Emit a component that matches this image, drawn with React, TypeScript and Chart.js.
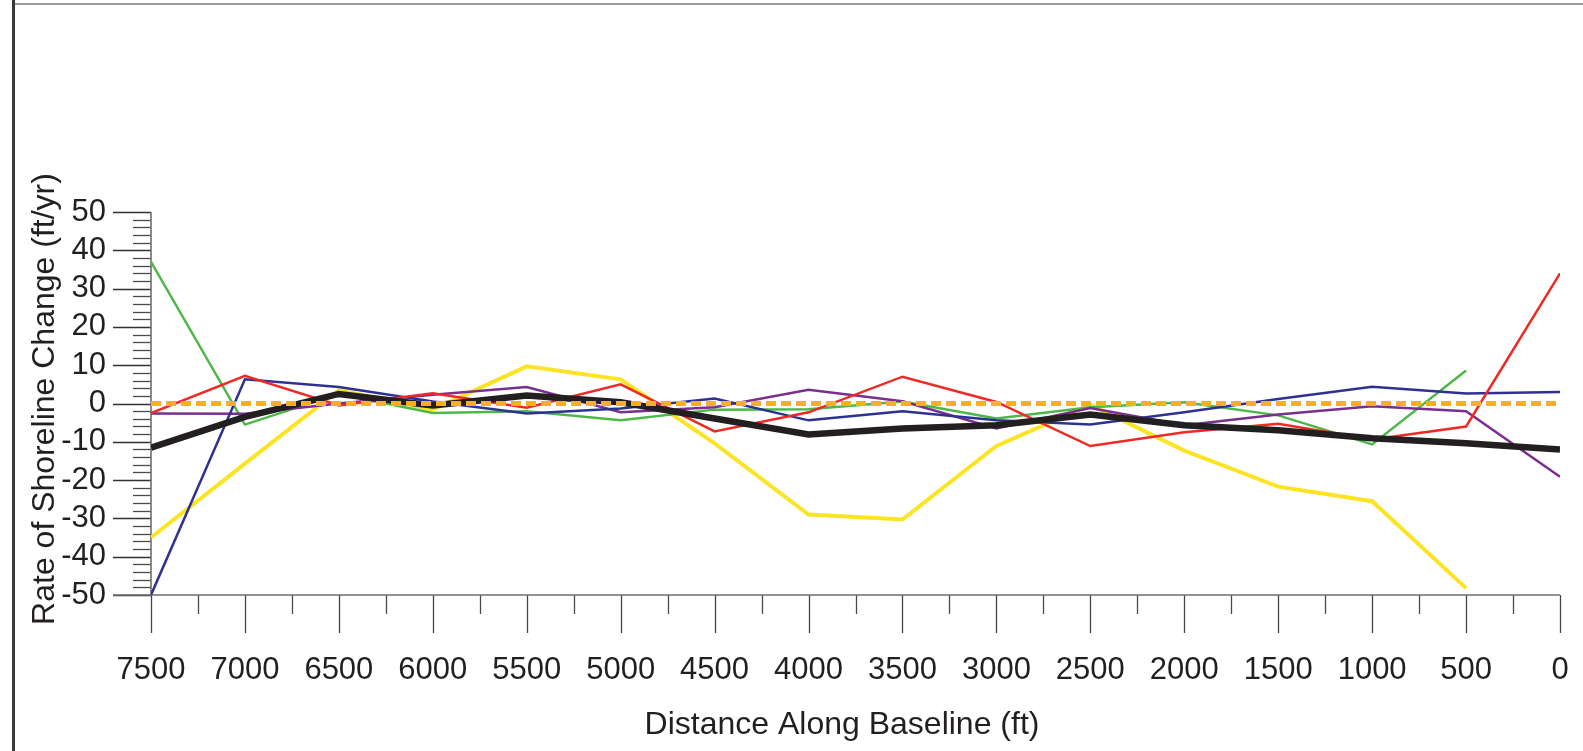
import React, { useEffect, useRef } from "react";
import { Chart, registerables } from "chart.js";

Chart.register(...registerables);

const DISTANCES = [7500, 7000, 6500, 6000, 5500, 5000, 4500, 4000, 3500, 3000, 2500, 2000, 1500, 1000, 500, 0];

const MEAN_RATE = [-11.5, -3.5, 2.5, -0.5, 2.1, 0.3, -3.9, -8.1, -6.5, -5.7, -2.9, -5.7, -7.0, -9.1, -10.4, -12.0];
const RED_RATE = [-2.5, 7.2, -0.5, 2.7, -1.1, 5.0, -7.3, -2.3, 7.0, 0.4, -11.1, -7.5, -5.3, -9.4, -6.0, 34.0];
const BLUE_RATE = [-50, 6.3, 4.3, 0.5, -2.6, -1.3, 1.3, -4.4, -2.0, -4.4, -5.5, -2.3, 1.2, 4.4, 2.6, 3.0];
const PURPLE_RATE = [-2.6, -2.7, 0, 2.3, 4.3, -2.3, -1.0, 3.6, 0.6, -6.5, -1.2, -5.7, -2.9, -0.7, -2.0, -19.1];
const GREEN_RATE = [37, -5.5, 2.5, -2.5, -2.0, -4.4, -1.6, -1.5, 0.5, -3.9, -1.0, 0.3, -3.1, -10.7, 8.6, null];
const YELLOW_RATE = [-35, -15.7, 3.5, -1.6, 9.7, 6.3, -10.4, -29.0, -30.3, -11.1, -0.3, -12.3, -21.7, -25.5, -48.2, null];
const ZERO_LINE_X = [7500, 0];
const ZERO_LINE_Y = [0, 0];

const X_MIN = 0;
const X_MAX = 7500;
const X_STEP = 500;
const X_MINOR_STEP = 250;
const Y_MIN = -50;
const Y_MAX = 50;
const Y_STEP = 10;
const Y_MINOR_STEP = 2;

const X_TITLE = "Distance Along Baseline (ft)";
const Y_TITLE = "Rate of Shoreline Change (ft/yr)";

const FONT = "'Liberation Sans', Arial, Helvetica, sans-serif";
const TEXT_COLOR = "#231F20";

const toPoints = (xs: number[], ys: (number | null)[]) =>
  xs.map((x, i) => ({ x, y: ys[i] })).filter((p) => p.y !== null);

const axesPlugin = {
  id: "customAxes",
  beforeDraw(chart: any) {
    const ctx = chart.ctx;
    ctx.save();
    // frame lines
    ctx.strokeStyle = "#9a9a9a";
    ctx.lineWidth = 2;
    ctx.beginPath();
    ctx.moveTo(12, 4);
    ctx.lineTo(chart.width, 4);
    ctx.stroke();
    ctx.strokeStyle = "#3a3a3a";
    ctx.lineWidth = 3;
    ctx.beginPath();
    ctx.moveTo(13.5, 0);
    ctx.lineTo(13.5, chart.height);
    ctx.stroke();
    ctx.restore();
  },
  beforeDatasetsDraw(chart: any) {
    const ctx = chart.ctx;
    const xs = chart.scales.x;
    const ys = chart.scales.y;
    const left = xs.getPixelForValue(X_MAX);
    const right = xs.getPixelForValue(X_MIN);
    const top = ys.getPixelForValue(Y_MAX);
    const bottom = ys.getPixelForValue(Y_MIN);
    ctx.save();
    ctx.lineCap = "butt";
    // y minor ticks
    ctx.strokeStyle = "#4a4a4a";
    ctx.lineWidth = 1.3;
    for (let v = Y_MIN; v <= Y_MAX; v += Y_MINOR_STEP) {
      if (v % Y_STEP === 0) continue;
      const y = Math.round(ys.getPixelForValue(v)) + 0.5;
      ctx.beginPath();
      ctx.moveTo(left - 18, y);
      ctx.lineTo(left, y);
      ctx.stroke();
    }
    // y major ticks
    ctx.strokeStyle = "#333333";
    for (let v = Y_MIN; v <= Y_MAX; v += Y_STEP) {
      const y = Math.round(ys.getPixelForValue(v)) + 0.5;
      ctx.beginPath();
      ctx.moveTo(left - 38, y);
      ctx.lineTo(left, y);
      ctx.stroke();
    }
    // x minor ticks
    ctx.strokeStyle = "#4a4a4a";
    for (let v = X_MIN; v <= X_MAX; v += X_MINOR_STEP) {
      if (v % X_STEP === 0) continue;
      const x = Math.round(xs.getPixelForValue(v)) + 0.5;
      ctx.beginPath();
      ctx.moveTo(x, bottom);
      ctx.lineTo(x, bottom + 19);
      ctx.stroke();
    }
    // x major ticks
    ctx.strokeStyle = "#444444";
    for (let v = X_MIN; v <= X_MAX; v += X_STEP) {
      const x = Math.round(xs.getPixelForValue(v)) + 0.5;
      ctx.beginPath();
      ctx.moveTo(x, bottom);
      ctx.lineTo(x, bottom + 38);
      ctx.stroke();
    }
    // axis lines
    ctx.strokeStyle = "#6e6e6e";
    ctx.lineWidth = 1.6;
    ctx.beginPath();
    ctx.moveTo(left, top);
    ctx.lineTo(left, bottom);
    ctx.stroke();
    ctx.beginPath();
    ctx.moveTo(left - 38, bottom);
    ctx.lineTo(right, bottom);
    ctx.stroke();
    // titles
    ctx.fillStyle = TEXT_COLOR;
    ctx.font = `32px ${FONT}`;
    ctx.textAlign = "center";
    ctx.textBaseline = "middle";
    ctx.fillText(X_TITLE, 842, 725);
    ctx.translate(45, 399);
    ctx.rotate(-Math.PI / 2);
    ctx.fillText(Y_TITLE, 0, 0);
    ctx.restore();
  },
};

export default function App() {
  const ref = useRef<HTMLCanvasElement | null>(null);
  useEffect(() => {
    document.body.style.margin = "0";
    const line = (data: any[], color: string, width: number, order: number, extra: any = {}) => ({
      data,
      borderColor: color,
      backgroundColor: color,
      borderWidth: width,
      pointRadius: 0,
      tension: 0,
      fill: false,
      order,
      borderCapStyle: "butt",
      borderJoinStyle: "miter",
      ...extra,
    });
    const chart = new Chart(ref.current as HTMLCanvasElement, {
      type: "line",
      data: {
        datasets: [
          line(toPoints(ZERO_LINE_X, ZERO_LINE_Y), "#F6B026", 5, 0, { borderDash: [10, 5] }),
          line(toPoints(DISTANCES, MEAN_RATE), "#231F20", 6.5, 1),
          line(toPoints(DISTANCES, RED_RATE), "#EE2A24", 2.5, 2),
          line(toPoints(DISTANCES, BLUE_RATE), "#2E3192", 2.5, 3),
          line(toPoints(DISTANCES, PURPLE_RATE), "#7A2E8E", 2.5, 4),
          line(toPoints(DISTANCES, GREEN_RATE), "#4BB848", 2.5, 5),
          line(toPoints(DISTANCES, YELLOW_RATE), "#FBE423", 4, 6),
        ],
      },
      options: {
        animation: false,
        responsive: false,
        maintainAspectRatio: false,
        layout: { padding: { top: 212, right: 23, bottom: 0, left: 0 } },
        plugins: { legend: { display: false }, tooltip: { enabled: false } },
        scales: {
          x: {
            type: "linear",
            reverse: true,
            min: X_MIN,
            max: X_MAX,
            grid: { display: false, drawTicks: true, tickLength: 57 },
            border: { display: false },
            afterFit: (s: any) => {
              s.height = 156;
            },
            ticks: {
              stepSize: X_STEP,
              autoSkip: false,
              maxRotation: 0,
              padding: 0,
              color: TEXT_COLOR,
              font: { family: FONT, size: 31 },
              callback: (v: any) => String(v),
            },
          },
          y: {
            type: "linear",
            min: Y_MIN,
            max: Y_MAX,
            grid: { display: false, drawTicks: false },
            border: { display: false },
            afterFit: (s: any) => {
              s.width = 151;
            },
            ticks: {
              stepSize: Y_STEP,
              autoSkip: false,
              padding: 45,
              color: TEXT_COLOR,
              font: { family: FONT, size: 31 },
              callback: (v: any) => String(v),
            },
          },
        },
      },
      plugins: [axesPlugin],
    });
    return () => chart.destroy();
  }, []);
  return (
    <div style={{ position: "fixed", left: 0, top: 0, width: 1583, height: 751, background: "#fff" }}>
      <canvas ref={ref} width={1583} height={751} />
    </div>
  );
}
